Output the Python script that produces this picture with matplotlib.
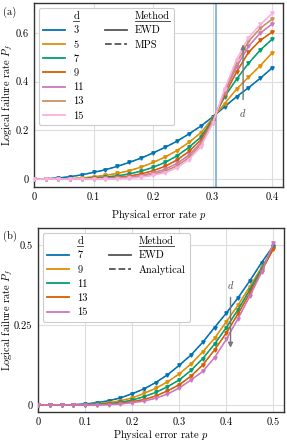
import matplotlib
matplotlib.use('Agg')
import matplotlib.pyplot as plt
from matplotlib.lines import Line2D

plt.rcParams.update({
    'font.family': 'serif', 'font.serif': ['cmr10'],
    'mathtext.fontset': 'cm', 'axes.formatter.use_mathtext': True,
    'font.size': 7.5,
})

palette = ['#0173b2', '#de8f05', '#029e73', '#d55e00', '#cc78bc', '#ca9161', '#fbafe4']

# ---- panel (a) data ----
p_a = [0.00, 0.02, 0.04, 0.06, 0.08, 0.10, 0.12, 0.14, 0.16, 0.18, 0.20,
       0.22, 0.24, 0.26, 0.28, 0.30, 0.32, 0.34, 0.36, 0.38, 0.40]
d_a = [3, 5, 7, 9, 11, 13, 15]
pf_a_3 = [0, 0.001, 0.004, 0.009, 0.017, 0.027, 0.038, 0.052, 0.068, 0.086, 0.107,
          0.13, 0.155, 0.185, 0.217, 0.255, 0.297, 0.338, 0.375, 0.414, 0.457]
pf_a_5 = [0, 0, 0.0005, 0.0015, 0.004, 0.009, 0.015, 0.023, 0.034, 0.049, 0.068,
          0.09, 0.117, 0.15, 0.19, 0.25, 0.31, 0.369, 0.418, 0.466, 0.519]
pf_a_7 = [0, 0, 0, 0.0005, 0.0015, 0.004, 0.008, 0.013, 0.021, 0.032, 0.048,
          0.068, 0.095, 0.13, 0.172, 0.245, 0.338, 0.41, 0.475, 0.53, 0.575]
pf_a_9 = [0, 0, 0, 0, 0.0005, 0.002, 0.004, 0.007, 0.012, 0.021, 0.034,
          0.052, 0.078, 0.113, 0.16, 0.24, 0.345, 0.44, 0.52, 0.57, 0.604]
pf_a_11 = [0, 0, 0, 0, 0, 0.001, 0.002, 0.004, 0.008, 0.014, 0.025,
           0.04, 0.064, 0.098, 0.148, 0.236, 0.355, 0.46, 0.545, 0.6, 0.637]
pf_a_13 = [0, 0, 0, 0, 0, 0, 0.001, 0.002, 0.005, 0.01, 0.019,
           0.032, 0.054, 0.088, 0.14, 0.232, 0.36, 0.475, 0.565, 0.62, 0.657]
pf_a_15 = [0, 0, 0, 0, 0, 0, 0, 0.001, 0.003, 0.007, 0.015,
           0.026, 0.046, 0.08, 0.133, 0.228, 0.37, 0.49, 0.58, 0.635, 0.68]
pf_a = [pf_a_3, pf_a_5, pf_a_7, pf_a_9, pf_a_11, pf_a_13, pf_a_15]
threshold_a = 0.305

# ---- panel (b) data ----
p_b = [0.000, 0.025, 0.050, 0.075, 0.100, 0.125, 0.150, 0.175, 0.200, 0.225, 0.250,
       0.275, 0.300, 0.325, 0.350, 0.375, 0.400, 0.425, 0.450, 0.475, 0.500]
d_b = [7, 9, 11, 13, 15]
pf_b_7 = [0, 0, 0.0003, 0.001, 0.003, 0.007, 0.013, 0.022, 0.035, 0.05, 0.07,
          0.094, 0.124, 0.156, 0.196, 0.242, 0.287, 0.335, 0.388, 0.445, 0.497]
pf_b_9 = [0, 0, 0, 0.0005, 0.001, 0.003, 0.007, 0.013, 0.022, 0.036, 0.052,
          0.072, 0.097, 0.128, 0.166, 0.208, 0.26, 0.312, 0.37, 0.43, 0.49]
pf_b_11 = [0, 0, 0, 0, 0.0005, 0.002, 0.004, 0.008, 0.015, 0.026, 0.039,
           0.057, 0.078, 0.108, 0.145, 0.19, 0.242, 0.298, 0.36, 0.425, 0.49]
pf_b_13 = [0, 0, 0, 0, 0, 0.001, 0.002, 0.005, 0.01, 0.017, 0.028,
           0.044, 0.063, 0.09, 0.125, 0.172, 0.225, 0.285, 0.35, 0.418, 0.488]
pf_b_15 = [0, 0, 0, 0, 0, 0, 0.001, 0.003, 0.007, 0.012, 0.021,
           0.034, 0.053, 0.078, 0.105, 0.148, 0.205, 0.27, 0.34, 0.415, 0.505]
pf_b = [pf_b_7, pf_b_9, pf_b_11, pf_b_13, pf_b_15]

fig = plt.figure(figsize=(2.87, 4.42), dpi=100)
ax1 = fig.add_axes([0.1185, 0.5769, 0.8676, 0.4163])
ax2 = fig.add_axes([0.1324, 0.0679, 0.857, 0.4163])

def style(ax):
    ax.grid(True, color='#dddddd', lw=0.8)
    ax.set_axisbelow(True)
    for s in ax.spines.values():
        s.set_color('#333333')
        s.set_linewidth(1.0)
    ax.tick_params(length=0, pad=4, labelsize=7.5)

# panel (a)
for i, (d, y) in enumerate(zip(d_a, pf_a)):
    ax1.plot(p_a, y, color=palette[i], lw=1.1, marker='v', ms=2.4, zorder=3)
    ax1.plot(p_a, y, color=palette[i], lw=0.8, ls='--', alpha=0.8, zorder=3)
ax1.axvline(threshold_a, color='#8ab8dc', lw=1.4, zorder=2)
ax1.set_xlim(0, 0.418)
ax1.set_ylim(-0.033, 0.723)
ax1.set_xticks([0, 0.1, 0.2, 0.3, 0.4])
ax1.set_xticklabels(['0', '0.1', '0.2', '0.3', '0.4'])
ax1.set_yticks([0, 0.2, 0.4, 0.6])
ax1.set_yticklabels(['0', '0.2', '0.4', '0.6'])
ax1.set_xlabel(r'Physical error rate $p$', fontsize=7.5)
ax1.set_ylabel(r'Logical failure rate $P_f$', fontsize=7.5)
ax1.xaxis.set_label_coords(0.5, -0.112)
ax1.yaxis.set_label_coords(-0.078, 0.5)
style(ax1)
ax1.annotate('', xy=(0.351, 0.565), xytext=(0.351, 0.315),
             arrowprops=dict(arrowstyle='-|>', color='#777777', lw=1.0, mutation_scale=7))
ax1.text(0.351, 0.27, r'$d$', ha='center', va='center', fontsize=7.5, color='#444444')

# panel (b)
for i, (d, y) in enumerate(zip(d_b, pf_b)):
    ax2.plot(p_b, y, color=palette[i], lw=1.1, marker='v', ms=2.4, zorder=3)
    ax2.plot(p_b, y, color=palette[i], lw=0.8, ls='--', alpha=0.8, zorder=3)
ax2.set_xlim(0, 0.5225)
ax2.set_ylim(-0.022, 0.553)
ax2.set_xticks([0, 0.1, 0.2, 0.3, 0.4, 0.5])
ax2.set_xticklabels(['0', '0.1', '0.2', '0.3', '0.4', '0.5'])
ax2.set_yticks([0, 0.25, 0.5])
ax2.set_yticklabels(['0', '0.25', '0.5'])
ax2.set_xlabel(r'Physical error rate $p$', fontsize=7.5)
ax2.set_ylabel(r'Logical failure rate $P_f$', fontsize=7.5)
ax2.xaxis.set_label_coords(0.5, -0.088)
ax2.yaxis.set_label_coords(-0.094, 0.5)
style(ax2)
ax2.annotate('', xy=(0.409, 0.17), xytext=(0.409, 0.345),
             arrowprops=dict(arrowstyle='-|>', color='#777777', lw=1.0, mutation_scale=7))
ax2.text(0.409, 0.375, r'$d$', ha='center', va='center', fontsize=7.5, color='#444444')

fig.text(0.012, 0.972, '(a)', fontsize=7.5, va='center')
fig.text(0.012, 0.466, '(b)', fontsize=7.5, va='center')

def make_legend(ax, ds, method_labels, anchor):
    blank = Line2D([], [], color='none')
    handles = [blank] + [Line2D([], [], color=palette[i], lw=1.3) for i in range(len(ds))]
    labels = ['d'] + [str(d) for d in ds]
    mh = [blank, Line2D([], [], color='#555555', lw=1.3),
          Line2D([], [], color='#555555', lw=1.3, ls='--')]
    ml = ['Method'] + method_labels
    n = len(handles)
    while len(mh) < n:
        mh.append(blank)
        ml.append('')
    leg = ax.legend(handles + mh, labels + ml, ncol=2, loc='upper left',
                    bbox_to_anchor=anchor, borderaxespad=0, fontsize=7.5,
                    handlelength=2.1, handletextpad=0.8, labelspacing=0.45,
                    columnspacing=2.0, frameon=True, fancybox=True,
                    edgecolor='#cccccc', framealpha=1.0, borderpad=0.4)
    leg.get_frame().set_linewidth(0.8)
    return leg

leg1 = make_legend(ax1, d_a, ['EWD', 'MPS'], (0.02, 0.975))
leg2 = make_legend(ax2, d_b, ['EWD', 'Analytical'], (0.02, 0.975))

fig.canvas.draw()
for leg in (leg1, leg2):
    for t in leg.get_texts():
        if t.get_text() in ('d', 'Method'):
            bb = t.get_window_extent().transformed(fig.transFigure.inverted())
            y = bb.y0 - 0.2 / 442
            fig.add_artist(Line2D([bb.x0, bb.x1], [y, y], color='#333333', lw=0.6,
                                  transform=fig.transFigure))

fig.savefig('out.png', dpi=100)
